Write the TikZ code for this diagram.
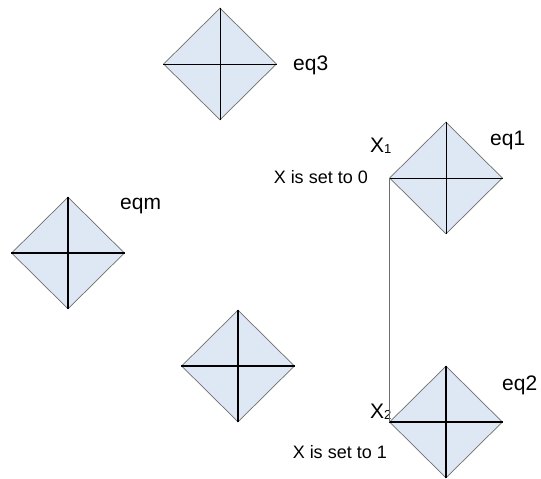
\documentclass[tikz,border=0pt]{standalone}
\usepackage{fontspec}
\setmainfont{Liberation Sans}
\usepackage{tikz}
\usetikzlibrary{shapes.geometric}
\usetikzlibrary{positioning}

\definecolor{eqfill}{RGB}{222,231,244}
\definecolor{eqedge}{RGB}{110,110,110}

\begin{document}
\begin{tikzpicture}[
    x=1pt, y=-1pt,
    eqbox/.style={diamond, draw=eqedge, fill=eqfill, line width=0.7pt,
      minimum width=113pt, minimum height=112pt, inner sep=0pt},
    eqname/.style={anchor=west, inner sep=0pt, font=\fontsize{21}{24}\selectfont},
    setnote/.style={inner sep=0pt, font=\fontsize{18}{20}\selectfont},
    xname/.style={anchor=west, inner sep=0pt, font=\fontsize{21}{23}\selectfont}
  ]
  \useasboundingbox (0,0) rectangle (541,479);

  % Diamonds
  \node[eqbox] (eq3) at (220, 64)  {};
  \node[eqbox] (eqm) at (68, 253)  {};
  \node[eqbox] (eq1) at (446, 178) {};
  \node[eqbox] (eq0) at (238, 366) {};
  \node[eqbox] (eq2) at (446, 422) {};

  % Crosses (thin ones and thick ones)
  \foreach \d in {eq3, eq1}{
    \draw[line width=0.8pt] (\d.north) -- (\d.south);
    \draw[line width=0.8pt] (\d.west) -- (\d.east);
  }
  \foreach \d in {eqm, eq0, eq2}{
    \draw[line width=1.3pt] (\d.north) -- (\d.south);
    \draw[line width=1.3pt] (\d.west) -- (\d.east);
  }

  % Labels
  \node[eqname] (eq3lbl) at (293, 65)  {eq3};
  \node[eqname] (eqmlbl) at (120, 206) {eqm};
  \node[eqname] (eq1lbl) at (490, 140) {eq1};
  \node[eqname] (eq2lbl) at (502, 385) {eq2};

  \node[xname] (x1) at (370, 146) {X\lower0.5pt\hbox{\fontsize{13}{13}\selectfont 1}};
  \node[xname] (x2) at (370, 412) {X\lower0.5pt\hbox{\fontsize{13}{13}\selectfont 2}};
  \node[setnote, anchor=east] (set0) at (368, 177) {X is set to 0};
  \node[setnote, anchor=east] (set1) at (387, 452) {X is set to 1};

  % Link between the two set points
  \draw[eqedge, line width=0.9pt] (eq1.west) -- (eq2.west);

\end{tikzpicture}
\end{document}
